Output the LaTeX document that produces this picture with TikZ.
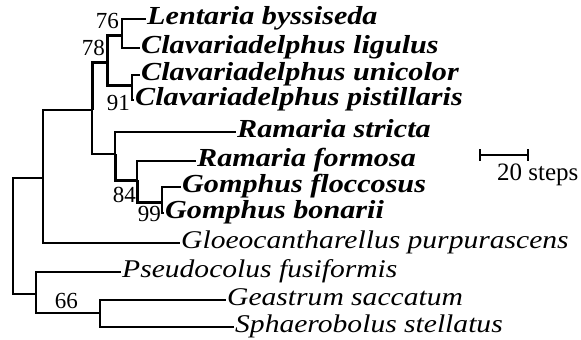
\documentclass[tikz,border=0pt]{standalone}
\usepackage{fontspec}
\setmainfont{Liberation Serif}
\newfontfamily\taxonfont[FakeStretch=1.16]{Liberation Serif}
\usepackage{tikz}

\begin{document}
\begin{tikzpicture}[
    x=1pt, y=-1pt,
    branch/.style={line width=1.3pt},
    strong/.style={line width=3pt},
    taxon/.style={anchor=west, inner xsep=1pt, inner ysep=0pt, text height=16pt, text depth=5pt, font=\taxonfont\fontsize{25.5}{26}\selectfont\itshape},
    ingroup/.style={taxon, font=\taxonfont\fontsize{26}{26}\selectfont\bfseries\itshape},
    support/.style={anchor=base east, inner sep=0pt, font=\fontsize{23}{23}\selectfont}
]
\useasboundingbox (0,0) rectangle (581,340);

% Taxa (bold ones first)
\node[ingroup] (lentaria) at (146,19) {Lentaria byssiseda};
\node[ingroup] (ligulus) at (140,48) {Clavariadelphus ligulus};
\node[ingroup] (unicolor) at (140,75) {Clavariadelphus unicolor};
\node[ingroup] (pistill) at (134,100) {Clavariadelphus pistillaris};
\node[ingroup] (stricta) at (236,132) {Ramaria stricta};
\node[ingroup] (formosa) at (196,161) {Ramaria formosa};
\node[ingroup] (flocc) at (181,187) {Gomphus floccosus};
\node[ingroup] (bonarii) at (164,213) {Gomphus bonarii};
\node[taxon] (gloeo) at (180,243) {Gloeocantharellus purpurascens};
\node[taxon] (pseudo) at (121,272) {Pseudocolus fusiformis};
\node[taxon] (geastrum) at (226,300) {Geastrum saccatum};
\node[taxon] (sphaero) at (234,327) {Sphaerobolus stellatus};

% Internal nodes
\coordinate (root) at (13,236);
\coordinate (ingr) at (43,178);
\coordinate (outgr) at (36,294);
\coordinate (core) at (92,110);
\coordinate (n78) at (107,62);
\coordinate (n76) at (122,35);
\coordinate (n91) at (132,85);
\coordinate (ram) at (115,154);
\coordinate (n84) at (137,180);
\coordinate (n99) at (162,202);
\coordinate (n66) at (100,313);

% Branches
\draw[branch] (root) |- (ingr);
\draw[branch] (root) |- (outgr);
\draw[branch] (ingr) |- (core);
\draw[branch] (ingr) |- (gloeo.west);
\draw[strong] (core) |- (n78);
\draw[branch] (core) |- (ram);
\draw[strong] (n78) |- (n76);
\draw[strong] (n78) |- (n91);
\draw[branch] (n76) |- (lentaria.west);
\draw[branch] (n76) |- (ligulus.west);
\draw[branch] (n91) |- (unicolor.west);
\draw[branch] (n91) |- (pistill.west);
\draw[branch] (ram) |- (stricta.west);
\draw[strong] (ram) |- (n84);
\draw[branch] (n84) |- (formosa.west);
\draw[strong] (n84) |- (n99);
\draw[branch] (n99) |- (flocc.west);
\draw[branch] (n99) |- (bonarii.west);
\draw[branch] (outgr) |- (pseudo.west);
\draw[branch] (outgr) |- (n66);
\draw[branch] (n66) |- (geastrum.west);
\draw[branch] (n66) |- (sphaero.west);

% Bootstrap values
\node[support] (b76) at (119,28) {76};
\node[support] (b78) at (105,55) {78};
\node[support] (b91) at (130,110) {91};
\node[support] (b84) at (136,202) {84};
\node[support] (b99) at (161,221) {99};
\node[support] (b66) at (78,308) {66};

% Scale bar
\draw[line width=1.8pt] (480,149) -- (480,161) (480,155) -- (528,155) (528,149) -- (528,161);
\node[anchor=base west, inner sep=0pt, font=\fontsize{25}{25}\selectfont] (scale) at (497,180) {20 steps};

\end{tikzpicture}
\end{document}
